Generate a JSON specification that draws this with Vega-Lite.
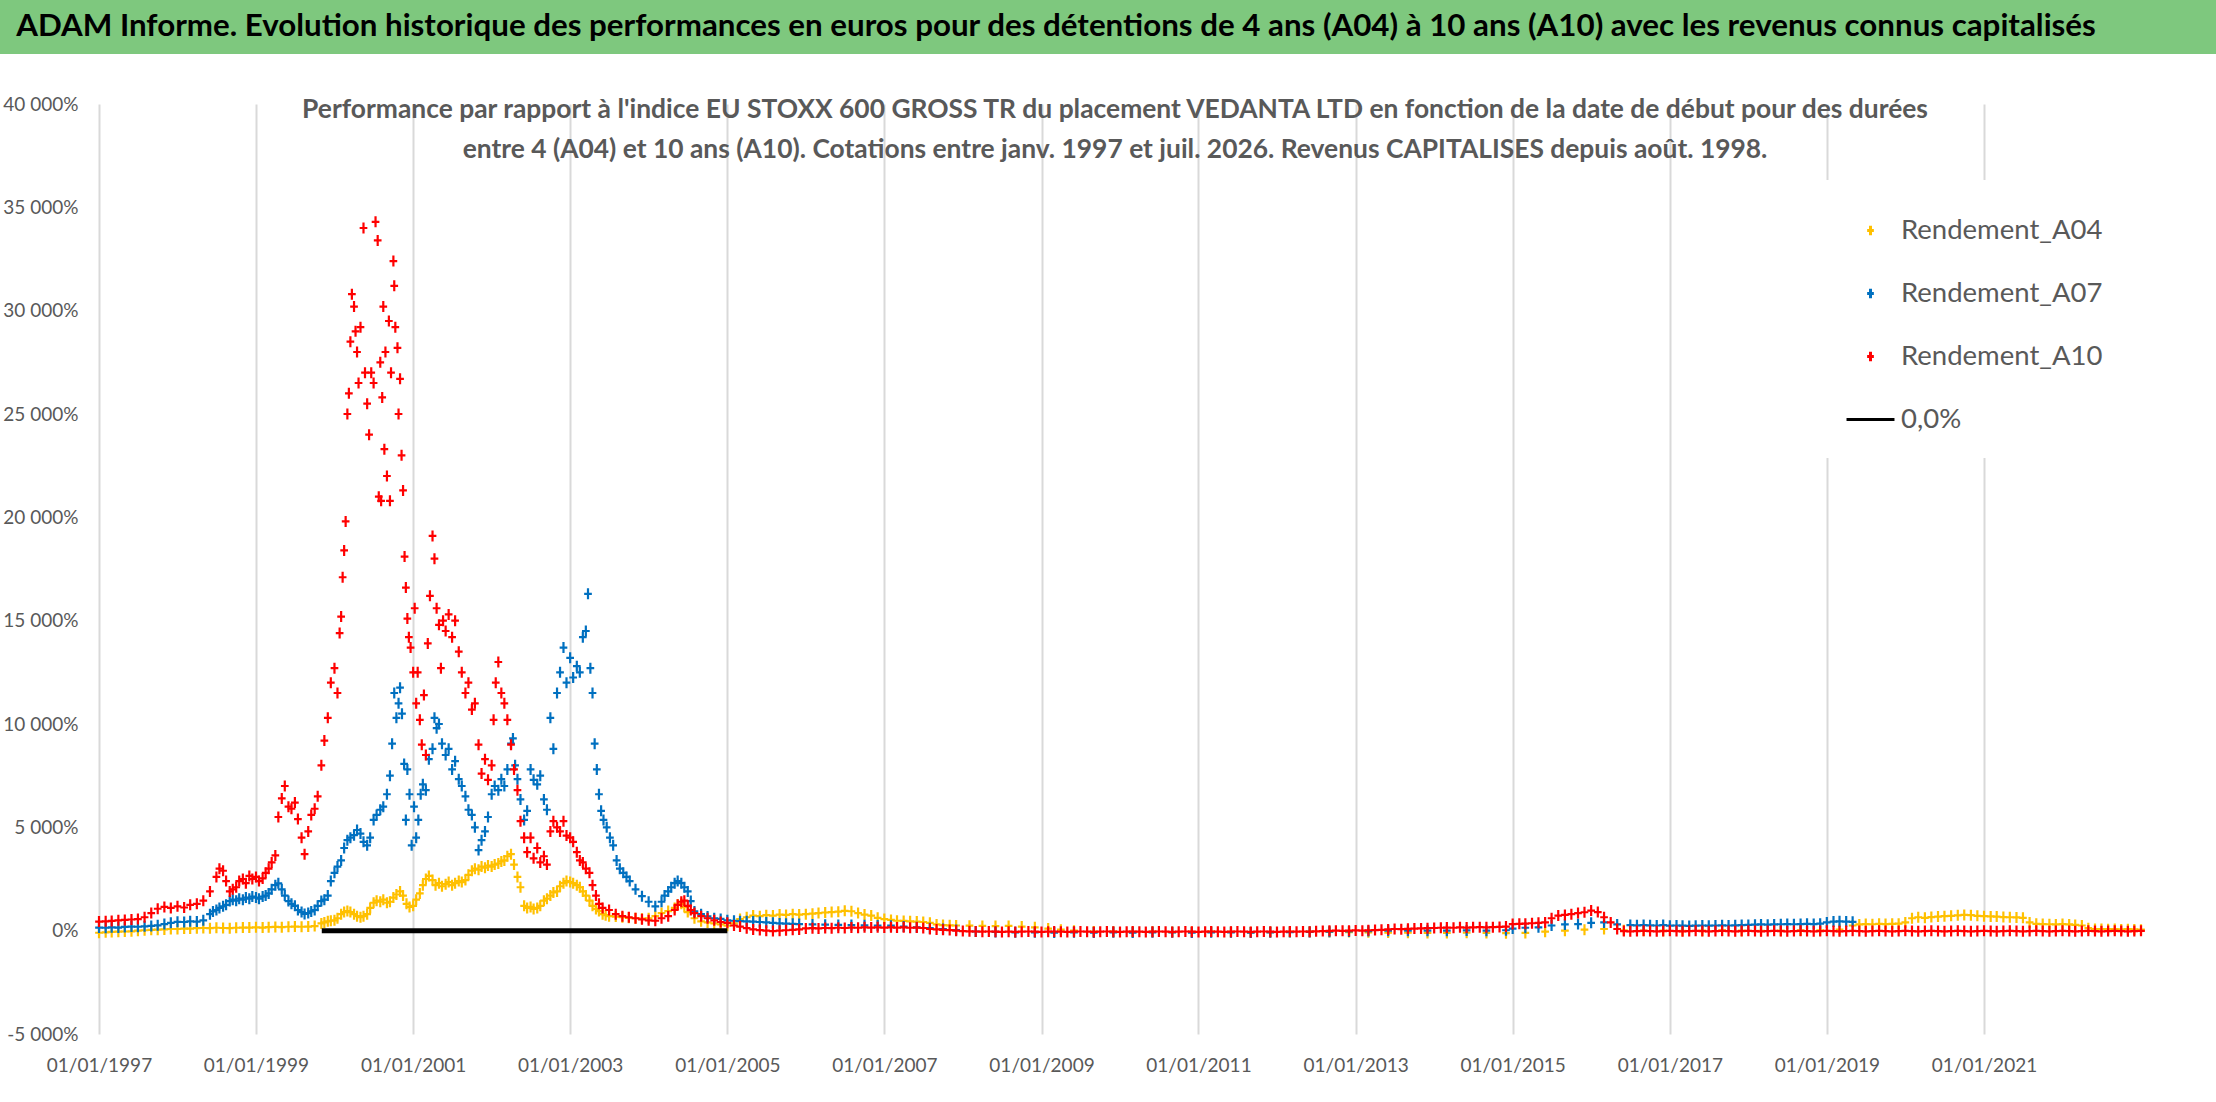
{
  "$schema": "https://vega.github.io/schema/vega-lite/v6.json",
  "padding": 0,
  "background": "white",
  "spacing": 41,
  "config": {
    "view": {"stroke": null},
    "font": "Lato",
    "legend": {
      "orient": "none",
      "legendX": 1820,
      "legendY": 180,
      "fillColor": "white",
      "padding": 25,
      "symbolSize": 2300,
      "symbolStrokeWidth": 3,
      "rowPadding": 24,
      "labelFont": "Lato",
      "labelFontSize": 27.5,
      "labelColor": "#595959",
      "labelOffset": 5,
      "labelLimit": 0
    }
  },
  "datasets": {
    "grid": [
      {"v":-5000},{"v":0},{"v":5000},{"v":10000},{"v":15000},{"v":20000},{"v":25000},{"v":30000},{"v":35000},{"v":40000}
    ],
    "a04": [
      {"d":"1997-01","v":-100},{"d":"1997-02","v":-80},{"d":"1997-03","v":-60},{"d":"1997-04","v":-50},{"d":"1997-05","v":-40},{"d":"1997-06","v":-30},
      {"d":"1997-07","v":0},{"d":"1997-08","v":20},{"d":"1997-09","v":40},{"d":"1997-10","v":50},{"d":"1997-11","v":60},{"d":"1997-12","v":80},
      {"d":"1998-01","v":80},{"d":"1998-02","v":100},{"d":"1998-03","v":100},{"d":"1998-04","v":120},{"d":"1998-05","v":130},{"d":"1998-06","v":120},
      {"d":"1998-07","v":140},{"d":"1998-08","v":130},{"d":"1998-09","v":120},{"d":"1998-10","v":140},{"d":"1998-11","v":150},{"d":"1998-12","v":150},
      {"d":"1999-01","v":160},{"d":"1999-02","v":150},{"d":"1999-03","v":170},{"d":"1999-04","v":180},{"d":"1999-05","v":170},{"d":"1999-06","v":190},
      {"d":"1999-07","v":200},{"d":"1999-08","v":190},{"d":"1999-09","v":200},{"d":"1999-10","v":220},{"d":"1999-11","v":350},{"d":"1999-11-15","v":400},
      {"d":"1999-12","v":450},{"d":"1999-12-15","v":480},{"d":"2000-01","v":500},{"d":"2000-01-15","v":600},{"d":"2000-02","v":800},{"d":"2000-02-15","v":900},
      {"d":"2000-03","v":950},{"d":"2000-03-15","v":900},{"d":"2000-04","v":800},{"d":"2000-04-15","v":700},{"d":"2000-05","v":650},{"d":"2000-05-15","v":700},
      {"d":"2000-06","v":800},{"d":"2000-06-15","v":1100},{"d":"2000-07","v":1350},{"d":"2000-07-15","v":1450},{"d":"2000-08","v":1400},{"d":"2000-08-15","v":1500},
      {"d":"2000-09","v":1350},{"d":"2000-09-15","v":1400},{"d":"2000-10","v":1600},{"d":"2000-10-15","v":1750},{"d":"2000-11","v":1900},{"d":"2000-11-15","v":1700},
      {"d":"2000-12","v":1300},{"d":"2000-12-15","v":1150},{"d":"2001-01","v":1200},{"d":"2001-01-15","v":1500},{"d":"2001-02","v":1800},{"d":"2001-02-15","v":2200},
      {"d":"2001-03","v":2500},{"d":"2001-03-15","v":2650},{"d":"2001-04","v":2450},{"d":"2001-04-15","v":2200},{"d":"2001-05","v":2300},{"d":"2001-05-15","v":2150},
      {"d":"2001-06","v":2250},{"d":"2001-06-15","v":2350},{"d":"2001-07","v":2200},{"d":"2001-07-15","v":2300},{"d":"2001-08","v":2400},{"d":"2001-08-15","v":2350},
      {"d":"2001-09","v":2450},{"d":"2001-09-15","v":2700},{"d":"2001-10","v":2900},{"d":"2001-10-15","v":3000},{"d":"2001-11","v":2950},{"d":"2001-11-15","v":3100},
      {"d":"2001-12","v":3050},{"d":"2001-12-15","v":3150},{"d":"2002-01","v":3100},{"d":"2002-01-15","v":3200},{"d":"2002-02","v":3250},{"d":"2002-02-15","v":3350},
      {"d":"2002-03","v":3400},{"d":"2002-03-15","v":3600},{"d":"2002-04","v":3700},{"d":"2002-04-15","v":3200},{"d":"2002-05","v":2600},{"d":"2002-05-15","v":2100},
      {"d":"2002-06","v":1200},{"d":"2002-06-15","v":1100},{"d":"2002-07","v":1150},{"d":"2002-07-15","v":1050},{"d":"2002-08","v":1100},{"d":"2002-08-15","v":1200},
      {"d":"2002-09","v":1450},{"d":"2002-09-15","v":1550},{"d":"2002-10","v":1700},{"d":"2002-10-15","v":1850},{"d":"2002-11","v":1900},{"d":"2002-11-15","v":2150},
      {"d":"2002-12","v":2300},{"d":"2002-12-15","v":2400},{"d":"2003-01","v":2350},{"d":"2003-01-15","v":2300},{"d":"2003-02","v":2200},{"d":"2003-02-15","v":2100},
      {"d":"2003-03","v":1900},{"d":"2003-03-15","v":1700},{"d":"2003-04","v":1450},{"d":"2003-04-15","v":1200},{"d":"2003-05","v":1050},{"d":"2003-05-15","v":950},
      {"d":"2003-06","v":800},{"d":"2003-06-15","v":750},{"d":"2003-07","v":700},{"d":"2003-08","v":680},{"d":"2003-09","v":650},{"d":"2003-10","v":620},
      {"d":"2003-11","v":600},{"d":"2003-12","v":580},{"d":"2004-01","v":600},{"d":"2004-02","v":700},{"d":"2004-03","v":850},{"d":"2004-04","v":950},
      {"d":"2004-05","v":1100},{"d":"2004-05-15","v":1250},{"d":"2004-06","v":1300},{"d":"2004-06-15","v":1150},{"d":"2004-07","v":900},{"d":"2004-08","v":600},
      {"d":"2004-09","v":450},{"d":"2004-10","v":400},{"d":"2004-11","v":350},{"d":"2004-12","v":300},{"d":"2005-01","v":240},{"d":"2005-02","v":350},
      {"d":"2005-03","v":560},{"d":"2005-04","v":650},{"d":"2005-05","v":730},{"d":"2005-06","v":700},{"d":"2005-07","v":750},{"d":"2005-08","v":730},
      {"d":"2005-09","v":780},{"d":"2005-10","v":760},{"d":"2005-11","v":800},{"d":"2005-12","v":780},{"d":"2006-01","v":800},{"d":"2006-02","v":820},
      {"d":"2006-03","v":850},{"d":"2006-04","v":880},{"d":"2006-05","v":900},{"d":"2006-06","v":920},{"d":"2006-07","v":960},{"d":"2006-08","v":940},
      {"d":"2006-09","v":850},{"d":"2006-10","v":780},{"d":"2006-11","v":730},{"d":"2006-12","v":620},{"d":"2007-01","v":560},{"d":"2007-02","v":520},
      {"d":"2007-03","v":480},{"d":"2007-04","v":470},{"d":"2007-05","v":450},{"d":"2007-06","v":440},{"d":"2007-07","v":420},{"d":"2007-08","v":380},
      {"d":"2007-09","v":300},{"d":"2007-10","v":270},{"d":"2007-11","v":260},{"d":"2007-12","v":250},{"d":"2008-02","v":240},{"d":"2008-04","v":230},
      {"d":"2008-06","v":220},{"d":"2008-08","v":230},{"d":"2008-10","v":200},{"d":"2008-12","v":160},{"d":"2009-02","v":100},{"d":"2009-04","v":50},
      {"d":"2009-06","v":0},{"d":"2009-09","v":-40},{"d":"2009-12","v":-50},{"d":"2010-03","v":-60},{"d":"2010-06","v":-50},{"d":"2010-09","v":-70},
      {"d":"2010-12","v":-60},{"d":"2011-03","v":-50},{"d":"2011-06","v":-60},{"d":"2011-09","v":-80},{"d":"2011-12","v":-70},{"d":"2012-03","v":-60},
      {"d":"2012-06","v":-50},{"d":"2012-09","v":-60},{"d":"2012-12","v":-70},{"d":"2013-03","v":-80},{"d":"2013-06","v":-90},{"d":"2013-09","v":-100},
      {"d":"2013-12","v":-110},{"d":"2014-03","v":-110},{"d":"2014-06","v":-100},{"d":"2014-09","v":-110},{"d":"2014-12","v":-120},{"d":"2015-03","v":-110},
      {"d":"2015-06","v":-50},{"d":"2015-09","v":0},{"d":"2015-12","v":50},{"d":"2016-03","v":80},{"d":"2016-06","v":20},{"d":"2016-09","v":0},
      {"d":"2016-12","v":0},{"d":"2017-03","v":-10},{"d":"2017-06","v":0},{"d":"2017-09","v":10},{"d":"2017-12","v":0},{"d":"2018-03","v":-10},
      {"d":"2018-06","v":0},{"d":"2018-09","v":10},{"d":"2018-12","v":20},{"d":"2019-03","v":50},{"d":"2019-05","v":250},{"d":"2019-06","v":300},
      {"d":"2019-07","v":320},{"d":"2019-08","v":310},{"d":"2019-09","v":330},{"d":"2019-10","v":320},{"d":"2019-11","v":330},{"d":"2019-12","v":340},
      {"d":"2020-01","v":400},{"d":"2020-02","v":600},{"d":"2020-03","v":650},{"d":"2020-04","v":620},{"d":"2020-05","v":660},{"d":"2020-06","v":680},
      {"d":"2020-07","v":700},{"d":"2020-08","v":720},{"d":"2020-09","v":740},{"d":"2020-10","v":760},{"d":"2020-11","v":750},{"d":"2020-12","v":720},
      {"d":"2021-01","v":700},{"d":"2021-02","v":690},{"d":"2021-03","v":680},{"d":"2021-04","v":660},{"d":"2021-05","v":650},{"d":"2021-06","v":640},
      {"d":"2021-07","v":620},{"d":"2021-08","v":400},{"d":"2021-09","v":330},{"d":"2021-10","v":320},{"d":"2021-11","v":310},{"d":"2021-12","v":300},
      {"d":"2022-01","v":320},{"d":"2022-02","v":300},{"d":"2022-03","v":280},{"d":"2022-04","v":250},{"d":"2022-05","v":120},{"d":"2022-06","v":80},
      {"d":"2022-07","v":80},{"d":"2022-08","v":70},{"d":"2022-09","v":80},{"d":"2022-10","v":60},{"d":"2022-11","v":70},{"d":"2022-12","v":60},
      {"d":"2023-01","v":50}
    ],
    "a07": [
      {"d":"1997-01","v":150},{"d":"1997-02","v":140},{"d":"1997-03","v":160},{"d":"1997-04","v":150},{"d":"1997-05","v":180},{"d":"1997-06","v":200},
      {"d":"1997-07","v":190},{"d":"1997-08","v":210},{"d":"1997-09","v":230},{"d":"1997-10","v":260},{"d":"1997-11","v":320},{"d":"1997-12","v":380},
      {"d":"1998-01","v":430},{"d":"1998-02","v":420},{"d":"1998-03","v":450},{"d":"1998-04","v":440},{"d":"1998-05","v":500},{"d":"1998-06","v":800},
      {"d":"1998-06-15","v":930},{"d":"1998-07","v":1000},{"d":"1998-07-15","v":1100},{"d":"1998-08","v":1180},{"d":"1998-08-15","v":1250},{"d":"1998-09","v":1430},
      {"d":"1998-09-15","v":1500},{"d":"1998-10","v":1450},{"d":"1998-10-15","v":1550},{"d":"1998-11","v":1500},{"d":"1998-11-15","v":1600},{"d":"1998-12","v":1550},
      {"d":"1998-12-15","v":1650},{"d":"1999-01","v":1600},{"d":"1999-01-15","v":1550},{"d":"1999-02","v":1650},{"d":"1999-02-15","v":1700},{"d":"1999-03","v":1800},
      {"d":"1999-03-15","v":2000},{"d":"1999-04","v":2200},{"d":"1999-04-15","v":2290},{"d":"1999-05","v":2000},{"d":"1999-05-15","v":1700},{"d":"1999-06","v":1430},
      {"d":"1999-06-15","v":1300},{"d":"1999-07","v":1200},{"d":"1999-07-15","v":1000},{"d":"1999-08","v":900},{"d":"1999-08-15","v":810},{"d":"1999-09","v":850},
      {"d":"1999-09-15","v":930},{"d":"1999-10","v":1000},{"d":"1999-10-15","v":1200},{"d":"1999-11","v":1430},{"d":"1999-11-15","v":1500},{"d":"1999-12","v":1700},
      {"d":"1999-12-15","v":2400},{"d":"2000-01","v":2800},{"d":"2000-01-15","v":3100},{"d":"2000-02","v":3400},{"d":"2000-02-15","v":4000},{"d":"2000-03","v":4380},
      {"d":"2000-03-15","v":4500},{"d":"2000-04","v":4620},{"d":"2000-04-15","v":4870},{"d":"2000-05","v":4700},{"d":"2000-05-15","v":4300},{"d":"2000-06","v":4130},
      {"d":"2000-06-15","v":4500},{"d":"2000-07","v":5360},{"d":"2000-07-15","v":5600},{"d":"2000-08","v":5850},{"d":"2000-08-15","v":6000},{"d":"2000-09","v":6600},
      {"d":"2000-09-15","v":7500},{"d":"2000-09-25","v":9050},{"d":"2000-10-05","v":11500},{"d":"2000-10-15","v":10300},{"d":"2000-10-25","v":11000},{"d":"2000-11-01","v":11760},
      {"d":"2000-11-10","v":10500},{"d":"2000-11-20","v":8070},{"d":"2000-11-28","v":5360},{"d":"2000-12-05","v":7800},{"d":"2000-12-15","v":6600},{"d":"2000-12-25","v":4130},
      {"d":"2001-01-05","v":6000},{"d":"2001-01-15","v":4500},{"d":"2001-01-25","v":5360},{"d":"2001-02-05","v":6600},{"d":"2001-02-15","v":7080},{"d":"2001-03-01","v":6800},
      {"d":"2001-03-15","v":8300},{"d":"2001-04-01","v":8800},{"d":"2001-04-10","v":10300},{"d":"2001-04-20","v":9800},{"d":"2001-05-01","v":10000},{"d":"2001-05-15","v":9050},
      {"d":"2001-06-01","v":8500},{"d":"2001-06-15","v":8800},{"d":"2001-07-01","v":7800},{"d":"2001-07-15","v":8200},{"d":"2001-08-01","v":7330},{"d":"2001-08-15","v":7000},
      {"d":"2001-09-01","v":6500},{"d":"2001-09-15","v":5850},{"d":"2001-10-01","v":5600},{"d":"2001-10-15","v":5000},{"d":"2001-11-01","v":3900},{"d":"2001-11-15","v":4380},
      {"d":"2001-12-01","v":4800},{"d":"2001-12-15","v":5500},{"d":"2002-01-01","v":6600},{"d":"2002-01-15","v":7000},{"d":"2002-02-01","v":6800},{"d":"2002-02-15","v":7330},
      {"d":"2002-03-01","v":7000},{"d":"2002-03-15","v":7800},{"d":"2002-04-01","v":9050},{"d":"2002-04-10","v":9300},{"d":"2002-04-20","v":8000},{"d":"2002-05-01","v":7330},
      {"d":"2002-05-15","v":6350},{"d":"2002-06-01","v":5360},{"d":"2002-06-15","v":5800},{"d":"2002-07-01","v":7800},{"d":"2002-07-15","v":7300},{"d":"2002-08-01","v":7080},
      {"d":"2002-08-15","v":7500},{"d":"2002-09-01","v":6350},{"d":"2002-09-15","v":5850},{"d":"2002-10-01","v":10300},{"d":"2002-10-15","v":8800},{"d":"2002-11-01","v":11500},
      {"d":"2002-11-15","v":12500},{"d":"2002-12-01","v":13700},{"d":"2002-12-15","v":12000},{"d":"2003-01-01","v":13200},{"d":"2003-01-15","v":12250},{"d":"2003-02-01","v":12800},
      {"d":"2003-02-15","v":12500},{"d":"2003-03-01","v":14200},{"d":"2003-03-15","v":14500},{"d":"2003-03-25","v":16300},{"d":"2003-04-05","v":12700},{"d":"2003-04-15","v":11500},
      {"d":"2003-04-25","v":9050},{"d":"2003-05-05","v":7800},{"d":"2003-05-15","v":6600},{"d":"2003-05-25","v":5800},{"d":"2003-06-05","v":5360},{"d":"2003-06-20","v":5000},
      {"d":"2003-07-05","v":4500},{"d":"2003-07-20","v":4130},{"d":"2003-08-05","v":3400},{"d":"2003-08-20","v":3000},{"d":"2003-09-05","v":2800},{"d":"2003-09-20","v":2600},
      {"d":"2003-10-05","v":2400},{"d":"2003-11-01","v":2000},{"d":"2003-12-01","v":1670},{"d":"2004-01-01","v":1400},{"d":"2004-02-01","v":1180},{"d":"2004-03-01","v":1400},
      {"d":"2004-03-15","v":1700},{"d":"2004-04-01","v":1900},{"d":"2004-04-15","v":2100},{"d":"2004-05-01","v":2300},{"d":"2004-05-15","v":2400},{"d":"2004-06-01","v":2300},
      {"d":"2004-06-15","v":2100},{"d":"2004-07-01","v":1900},{"d":"2004-07-15","v":1430},{"d":"2004-08-01","v":930},{"d":"2004-09-01","v":800},{"d":"2004-10-01","v":690},
      {"d":"2004-11-01","v":600},{"d":"2004-12-01","v":570},{"d":"2005-01","v":500},{"d":"2005-02","v":480},{"d":"2005-03","v":460},{"d":"2005-04","v":450},
      {"d":"2005-05","v":440},{"d":"2005-06","v":420},{"d":"2005-07","v":400},{"d":"2005-08","v":380},{"d":"2005-09","v":350},{"d":"2005-10","v":340},
      {"d":"2005-11","v":330},{"d":"2005-12","v":320},{"d":"2006-02","v":300},{"d":"2006-04","v":290},{"d":"2006-06","v":280},{"d":"2006-08","v":270},
      {"d":"2006-10","v":260},{"d":"2006-12","v":250},{"d":"2007-02","v":240},{"d":"2007-04","v":200},{"d":"2007-06","v":160},{"d":"2007-08","v":120},
      {"d":"2007-10","v":80},{"d":"2007-12","v":30},{"d":"2008-03","v":-40},{"d":"2008-06","v":-60},{"d":"2008-09","v":-80},{"d":"2008-12","v":-80},
      {"d":"2009-03","v":-90},{"d":"2009-06","v":-80},{"d":"2009-09","v":-90},{"d":"2009-12","v":-80},{"d":"2010-03","v":-90},{"d":"2010-06","v":-80},
      {"d":"2010-09","v":-80},{"d":"2010-12","v":-90},{"d":"2011-03","v":-80},{"d":"2011-06","v":-80},{"d":"2011-09","v":-90},{"d":"2011-12","v":-80},
      {"d":"2012-03","v":-70},{"d":"2012-06","v":-60},{"d":"2012-09","v":-50},{"d":"2012-12","v":-40},{"d":"2013-03","v":-20},{"d":"2013-06","v":0},
      {"d":"2013-09","v":0},{"d":"2013-12","v":0},{"d":"2014-03","v":0},{"d":"2014-06","v":10},{"d":"2014-09","v":0},{"d":"2014-12","v":20},
      {"d":"2015-01","v":100},{"d":"2015-03","v":140},{"d":"2015-05","v":160},{"d":"2015-07","v":250},{"d":"2015-09","v":300},{"d":"2015-11","v":320},
      {"d":"2016-01","v":380},{"d":"2016-03","v":400},{"d":"2016-05","v":300},{"d":"2016-07","v":270},{"d":"2016-08","v":260},{"d":"2016-09","v":270},
      {"d":"2016-10","v":260},{"d":"2016-11","v":250},{"d":"2016-12","v":270},{"d":"2017-01","v":240},{"d":"2017-02","v":250},{"d":"2017-03","v":240},
      {"d":"2017-04","v":230},{"d":"2017-05","v":240},{"d":"2017-06","v":250},{"d":"2017-07","v":240},{"d":"2017-08","v":250},{"d":"2017-09","v":260},
      {"d":"2017-10","v":250},{"d":"2017-11","v":260},{"d":"2017-12","v":270},{"d":"2018-01","v":280},{"d":"2018-02","v":290},{"d":"2018-03","v":300},
      {"d":"2018-04","v":290},{"d":"2018-05","v":300},{"d":"2018-06","v":310},{"d":"2018-07","v":320},{"d":"2018-08","v":310},{"d":"2018-09","v":320},
      {"d":"2018-10","v":330},{"d":"2018-11","v":320},{"d":"2018-12","v":340},{"d":"2019-01","v":400},{"d":"2019-02","v":440},{"d":"2019-03","v":450},
      {"d":"2019-04","v":440},{"d":"2019-05","v":430}
    ],
    "a10": [
      {"d":"1997-01","v":440},{"d":"1997-02","v":450},{"d":"1997-03","v":470},{"d":"1997-04","v":500},{"d":"1997-05","v":520},{"d":"1997-06","v":540},
      {"d":"1997-07","v":560},{"d":"1997-08","v":650},{"d":"1997-09","v":850},{"d":"1997-10","v":1060},{"d":"1997-11","v":1150},{"d":"1997-12","v":1100},
      {"d":"1998-01","v":1180},{"d":"1998-02","v":1120},{"d":"1998-03","v":1250},{"d":"1998-04","v":1300},{"d":"1998-05","v":1450},{"d":"1998-06","v":1900},
      {"d":"1998-07","v":2600},{"d":"1998-07-15","v":3000},{"d":"1998-08","v":2900},{"d":"1998-08-15","v":2400},{"d":"1998-09","v":1900},{"d":"1998-09-15","v":2000},
      {"d":"1998-10","v":2100},{"d":"1998-10-15","v":2400},{"d":"1998-11","v":2500},{"d":"1998-11-15","v":2300},{"d":"1998-12","v":2650},{"d":"1998-12-15","v":2500},
      {"d":"1999-01","v":2600},{"d":"1999-01-15","v":2400},{"d":"1999-02","v":2530},{"d":"1999-02-15","v":2800},{"d":"1999-03","v":3000},{"d":"1999-03-15","v":3300},
      {"d":"1999-04","v":3640},{"d":"1999-04-15","v":5500},{"d":"1999-05","v":6400},{"d":"1999-05-15","v":7000},{"d":"1999-06","v":6000},{"d":"1999-06-15","v":5900},
      {"d":"1999-07","v":6200},{"d":"1999-07-15","v":5400},{"d":"1999-08","v":4500},{"d":"1999-08-15","v":3700},{"d":"1999-09","v":4800},{"d":"1999-09-15","v":5600},
      {"d":"1999-10","v":5900},{"d":"1999-10-15","v":6500},{"d":"1999-11","v":8000},{"d":"1999-11-15","v":9200},{"d":"1999-12","v":10300},{"d":"1999-12-15","v":12000},
      {"d":"2000-01-01","v":12700},{"d":"2000-01-15","v":11500},{"d":"2000-01-25","v":14400},{"d":"2000-02-01","v":15200},{"d":"2000-02-08","v":17100},{"d":"2000-02-15","v":18400},
      {"d":"2000-02-22","v":19800},{"d":"2000-03-01","v":25000},{"d":"2000-03-08","v":26000},{"d":"2000-03-15","v":28500},{"d":"2000-03-22","v":30800},{"d":"2000-04-01","v":30200},
      {"d":"2000-04-08","v":29000},{"d":"2000-04-15","v":28000},{"d":"2000-04-22","v":26500},{"d":"2000-05-01","v":29200},{"d":"2000-05-15","v":34000},{"d":"2000-05-22","v":27000},
      {"d":"2000-06-01","v":25500},{"d":"2000-06-10","v":24000},{"d":"2000-06-20","v":27000},{"d":"2000-07-01","v":26500},{"d":"2000-07-10","v":34300},{"d":"2000-07-20","v":33400},
      {"d":"2000-07-25","v":21000},{"d":"2000-08-01","v":27500},{"d":"2000-08-05","v":20800},{"d":"2000-08-10","v":25800},{"d":"2000-08-15","v":30200},{"d":"2000-08-20","v":23300},
      {"d":"2000-08-25","v":28000},{"d":"2000-09-01","v":22000},{"d":"2000-09-10","v":29500},{"d":"2000-09-15","v":20800},{"d":"2000-09-20","v":27000},{"d":"2000-10-01","v":32400},
      {"d":"2000-10-05","v":31200},{"d":"2000-10-10","v":29200},{"d":"2000-10-20","v":28200},{"d":"2000-10-25","v":25000},{"d":"2000-11-01","v":26700},{"d":"2000-11-08","v":23000},
      {"d":"2000-11-15","v":21300},{"d":"2000-11-22","v":18100},{"d":"2000-11-28","v":16600},{"d":"2000-12-05","v":15100},{"d":"2000-12-12","v":14200},{"d":"2000-12-20","v":13700},
      {"d":"2001-01-01","v":12500},{"d":"2001-01-08","v":15600},{"d":"2001-01-15","v":11000},{"d":"2001-01-22","v":12500},{"d":"2001-02-01","v":10200},{"d":"2001-02-10","v":9000},
      {"d":"2001-02-20","v":11400},{"d":"2001-03-01","v":8500},{"d":"2001-03-10","v":13900},{"d":"2001-03-20","v":16200},{"d":"2001-04-01","v":19100},{"d":"2001-04-10","v":18000},
      {"d":"2001-04-20","v":15600},{"d":"2001-05-01","v":14800},{"d":"2001-05-10","v":12700},{"d":"2001-05-20","v":15000},{"d":"2001-06-01","v":14500},{"d":"2001-06-15","v":15300},
      {"d":"2001-07-01","v":14200},{"d":"2001-07-15","v":15000},{"d":"2001-08-01","v":13500},{"d":"2001-08-15","v":12500},{"d":"2001-09-01","v":11500},{"d":"2001-09-15","v":12000},
      {"d":"2001-10-01","v":10700},{"d":"2001-10-15","v":11000},{"d":"2001-11-01","v":9000},{"d":"2001-11-15","v":7600},{"d":"2001-12-01","v":8300},{"d":"2001-12-15","v":7300},
      {"d":"2002-01-01","v":8000},{"d":"2002-01-10","v":10200},{"d":"2002-01-20","v":12000},{"d":"2002-02-01","v":13000},{"d":"2002-02-15","v":11500},{"d":"2002-03-01","v":11000},
      {"d":"2002-03-15","v":10200},{"d":"2002-04-01","v":9000},{"d":"2002-04-15","v":7800},{"d":"2002-05-01","v":6800},{"d":"2002-05-15","v":5300},{"d":"2002-06-01","v":4500},
      {"d":"2002-06-15","v":3800},{"d":"2002-07-01","v":4500},{"d":"2002-07-15","v":3500},{"d":"2002-08-01","v":4000},{"d":"2002-08-15","v":3300},{"d":"2002-09-01","v":3600},
      {"d":"2002-09-15","v":3200},{"d":"2002-10-01","v":4800},{"d":"2002-10-15","v":5300},{"d":"2002-11-01","v":5000},{"d":"2002-11-15","v":4800},{"d":"2002-12-01","v":5300},
      {"d":"2002-12-15","v":4600},{"d":"2003-01-01","v":4500},{"d":"2003-01-15","v":4300},{"d":"2003-02-01","v":3800},{"d":"2003-02-15","v":3400},{"d":"2003-03-01","v":3300},
      {"d":"2003-03-15","v":3000},{"d":"2003-04-01","v":2800},{"d":"2003-04-15","v":2200},{"d":"2003-05-01","v":1700},{"d":"2003-05-15","v":1300},{"d":"2003-06-01","v":1100},
      {"d":"2003-07","v":1000},{"d":"2003-08","v":800},{"d":"2003-09","v":700},{"d":"2003-10","v":650},{"d":"2003-11","v":600},{"d":"2003-12","v":550},
      {"d":"2004-01","v":500},{"d":"2004-02","v":480},{"d":"2004-03","v":600},{"d":"2004-04","v":700},{"d":"2004-05","v":1000},{"d":"2004-05-15","v":1250},
      {"d":"2004-06","v":1400},{"d":"2004-06-15","v":1450},{"d":"2004-07","v":1200},{"d":"2004-07-15","v":1000},{"d":"2004-08","v":850},{"d":"2004-09","v":700},
      {"d":"2004-10","v":600},{"d":"2004-11","v":500},{"d":"2004-12","v":420},{"d":"2005-01","v":380},{"d":"2005-02","v":250},{"d":"2005-03","v":200},
      {"d":"2005-04","v":120},{"d":"2005-05","v":60},{"d":"2005-06","v":30},{"d":"2005-07","v":0},{"d":"2005-08","v":-20},{"d":"2005-09","v":0},
      {"d":"2005-10","v":20},{"d":"2005-11","v":40},{"d":"2005-12","v":60},{"d":"2006-01","v":110},{"d":"2006-02","v":120},{"d":"2006-03","v":110},
      {"d":"2006-04","v":130},{"d":"2006-05","v":120},{"d":"2006-06","v":140},{"d":"2006-07","v":130},{"d":"2006-08","v":150},{"d":"2006-09","v":140},
      {"d":"2006-10","v":160},{"d":"2006-11","v":150},{"d":"2006-12","v":160},{"d":"2007-01","v":150},{"d":"2007-02","v":160},{"d":"2007-03","v":150},
      {"d":"2007-04","v":160},{"d":"2007-05","v":140},{"d":"2007-06","v":150},{"d":"2007-07","v":130},{"d":"2007-08","v":80},{"d":"2007-09","v":60},
      {"d":"2007-10","v":40},{"d":"2007-11","v":30},{"d":"2007-12","v":0},{"d":"2008-01","v":-20},{"d":"2008-02","v":-30},{"d":"2008-03","v":-40},
      {"d":"2008-04","v":-50},{"d":"2008-05","v":-40},{"d":"2008-06","v":-50},{"d":"2008-07","v":-60},{"d":"2008-08","v":-50},{"d":"2008-09","v":-60},
      {"d":"2008-10","v":-50},{"d":"2008-11","v":-40},{"d":"2008-12","v":-50},{"d":"2009-01","v":-60},{"d":"2009-02","v":-50},{"d":"2009-03","v":-40},
      {"d":"2009-04","v":-50},{"d":"2009-05","v":-60},{"d":"2009-06","v":-50},{"d":"2009-07","v":-40},{"d":"2009-08","v":-50},{"d":"2009-09","v":-60},
      {"d":"2009-10","v":-50},{"d":"2009-11","v":-40},{"d":"2009-12","v":-50},{"d":"2010-01","v":-60},{"d":"2010-02","v":-50},{"d":"2010-03","v":-40},
      {"d":"2010-04","v":-50},{"d":"2010-05","v":-60},{"d":"2010-06","v":-50},{"d":"2010-07","v":-40},{"d":"2010-08","v":-50},{"d":"2010-09","v":-60},
      {"d":"2010-10","v":-50},{"d":"2010-11","v":-40},{"d":"2010-12","v":-50},{"d":"2011-01","v":-60},{"d":"2011-02","v":-50},{"d":"2011-03","v":-40},
      {"d":"2011-04","v":-50},{"d":"2011-05","v":-60},{"d":"2011-06","v":-50},{"d":"2011-07","v":-40},{"d":"2011-08","v":-50},{"d":"2011-09","v":-60},
      {"d":"2011-10","v":-50},{"d":"2011-11","v":-40},{"d":"2011-12","v":-50},{"d":"2012-01","v":-60},{"d":"2012-02","v":-50},{"d":"2012-03","v":-40},
      {"d":"2012-04","v":-50},{"d":"2012-05","v":-40},{"d":"2012-06","v":-50},{"d":"2012-07","v":-30},{"d":"2012-08","v":-20},{"d":"2012-09","v":-10},
      {"d":"2012-10","v":0},{"d":"2012-11","v":-10},{"d":"2012-12","v":0},{"d":"2013-01","v":10},{"d":"2013-02","v":0},{"d":"2013-03","v":20},
      {"d":"2013-04","v":30},{"d":"2013-05","v":40},{"d":"2013-06","v":60},{"d":"2013-07","v":80},{"d":"2013-08","v":70},{"d":"2013-09","v":90},
      {"d":"2013-10","v":100},{"d":"2013-11","v":110},{"d":"2013-12","v":120},{"d":"2014-01","v":130},{"d":"2014-02","v":140},{"d":"2014-03","v":150},
      {"d":"2014-04","v":140},{"d":"2014-05","v":160},{"d":"2014-06","v":150},{"d":"2014-07","v":160},{"d":"2014-08","v":170},{"d":"2014-09","v":160},
      {"d":"2014-10","v":170},{"d":"2014-11","v":180},{"d":"2014-12","v":200},{"d":"2015-01","v":320},{"d":"2015-02","v":330},{"d":"2015-03","v":340},
      {"d":"2015-04","v":360},{"d":"2015-05","v":380},{"d":"2015-06","v":400},{"d":"2015-07","v":600},{"d":"2015-08","v":730},{"d":"2015-09","v":760},
      {"d":"2015-10","v":800},{"d":"2015-11","v":850},{"d":"2015-12","v":890},{"d":"2016-01","v":970},{"d":"2016-02","v":900},{"d":"2016-03","v":650},
      {"d":"2016-04","v":400},{"d":"2016-05","v":80},{"d":"2016-06","v":-20},{"d":"2016-07","v":-30},{"d":"2016-08","v":-20},{"d":"2016-09","v":-10},
      {"d":"2016-10","v":-20},{"d":"2016-11","v":-30},{"d":"2016-12","v":-20},{"d":"2017-01","v":-10},{"d":"2017-02","v":-20},{"d":"2017-03","v":-30},
      {"d":"2017-04","v":-20},{"d":"2017-05","v":-10},{"d":"2017-06","v":-20},{"d":"2017-07","v":-30},{"d":"2017-08","v":-20},{"d":"2017-09","v":-10},
      {"d":"2017-10","v":-20},{"d":"2017-11","v":-30},{"d":"2017-12","v":-20},{"d":"2018-01","v":-10},{"d":"2018-02","v":-20},{"d":"2018-03","v":-30},
      {"d":"2018-04","v":-20},{"d":"2018-05","v":-10},{"d":"2018-06","v":-20},{"d":"2018-07","v":-30},{"d":"2018-08","v":-20},{"d":"2018-09","v":-10},
      {"d":"2018-10","v":-20},{"d":"2018-11","v":-30},{"d":"2018-12","v":-20},{"d":"2019-01","v":-10},{"d":"2019-02","v":-20},{"d":"2019-03","v":-30},
      {"d":"2019-04","v":-20},{"d":"2019-05","v":-10},{"d":"2019-06","v":-20},{"d":"2019-07","v":-30},{"d":"2019-08","v":-20},{"d":"2019-09","v":-10},
      {"d":"2019-10","v":-20},{"d":"2019-11","v":-30},{"d":"2019-12","v":-20},{"d":"2020-01","v":-10},{"d":"2020-02","v":-20},{"d":"2020-03","v":-30},
      {"d":"2020-04","v":-20},{"d":"2020-05","v":-10},{"d":"2020-06","v":-20},{"d":"2020-07","v":-30},{"d":"2020-08","v":-20},{"d":"2020-09","v":-10},
      {"d":"2020-10","v":-20},{"d":"2020-11","v":-30},{"d":"2020-12","v":-20},{"d":"2021-01","v":-10},{"d":"2021-02","v":-20},{"d":"2021-03","v":-30},
      {"d":"2021-04","v":-20},{"d":"2021-05","v":-10},{"d":"2021-06","v":-20},{"d":"2021-07","v":-30},{"d":"2021-08","v":-20},{"d":"2021-09","v":-10},
      {"d":"2021-10","v":-20},{"d":"2021-11","v":-30},{"d":"2021-12","v":-20},{"d":"2022-01","v":-10},{"d":"2022-02","v":-20},{"d":"2022-03","v":-30},
      {"d":"2022-04","v":-20},{"d":"2022-05","v":-10},{"d":"2022-06","v":-20},{"d":"2022-07","v":-30},{"d":"2022-08","v":-20},{"d":"2022-09","v":-10},
      {"d":"2022-10","v":-20},{"d":"2022-11","v":-30},{"d":"2022-12","v":-20},{"d":"2023-01","v":-10}
    ],
    "zero": [
      {"d":"1999-11-03","v":0},{"d":"2005-01-01","v":0}
    ]
  },
  "vconcat": [
    {
      "width": 2216,
      "height": 54,
      "view": {"fill": "#7ec87e", "stroke": null},
      "data": {"values": [{"t": "ADAM Informe. Evolution historique des performances en euros pour des détentions de 4 ans (A04) à 10 ans (A10) avec les revenus connus capitalisés"}]},
      "mark": {"type": "text", "font": "Lato", "fontWeight": "bold", "fontSize": 31.3, "color": "#000000", "dx": -52},
      "encoding": {"text": {"field": "t", "type": "nominal"}}
    },
    {
      "width": 2216,
      "height": 930,
      "title": {
        "text": [
          "Performance par rapport à l'indice EU STOXX 600 GROSS TR  du placement VEDANTA LTD en fonction de la date de début pour des durées",
          "entre 4 (A04) et 10 ans (A10). Cotations entre janv. 1997 et juil. 2026. Revenus CAPITALISES depuis août. 1998."
        ],
        "font": "Lato",
        "fontSize": 26.4,
        "fontWeight": "bold",
        "color": "#595959",
        "lineHeight": 40,
        "offset": -68,
        "dx": 7,
        "anchor": "middle"
      },
      "encoding": {
        "x": {
          "field": "d",
          "type": "temporal",
          "title": null,
          "scale": {
            "type": "utc",
            "nice": false,
            "range": [99, 2141],
            "domain": [{"year": 1997, "month": 1, "date": 1, "utc": true}, {"year": 2023, "month": 1, "date": 1, "utc": true}]
          },
          "axis": {
            "values": [
              {"year": 1997, "month": 1, "date": 1, "utc": true}, {"year": 1999, "month": 1, "date": 1, "utc": true},
              {"year": 2001, "month": 1, "date": 1, "utc": true}, {"year": 2003, "month": 1, "date": 1, "utc": true},
              {"year": 2005, "month": 1, "date": 1, "utc": true}, {"year": 2007, "month": 1, "date": 1, "utc": true},
              {"year": 2009, "month": 1, "date": 1, "utc": true}, {"year": 2011, "month": 1, "date": 1, "utc": true},
              {"year": 2013, "month": 1, "date": 1, "utc": true}, {"year": 2015, "month": 1, "date": 1, "utc": true},
              {"year": 2017, "month": 1, "date": 1, "utc": true}, {"year": 2019, "month": 1, "date": 1, "utc": true},
              {"year": 2021, "month": 1, "date": 1, "utc": true}
            ],
            "labelExpr": "utcFormat(datum.value, '%d/%m/%Y')",
            "labelFlush": false,
            "labelOverlap": false,
            "labelFont": "Lato",
            "labelFontSize": 19,
            "labelColor": "#595959",
            "labelPadding": 22,
            "domain": false,
            "ticks": false,
            "grid": true,
            "gridColor": "#d9d9d9",
            "gridWidth": 2
          }
        },
        "y": {
          "field": "v",
          "type": "quantitative",
          "title": null,
          "scale": {"domain": [-5000, 40000], "nice": false, "zero": false},
          "axis": {
            "values": [-5000, 0, 5000, 10000, 15000, 20000, 25000, 30000, 35000, 40000],
            "labelExpr": "(datum.value < 0 ? '-' : '') + replace(format(abs(datum.value), ',d'), ',', ' ') + '%'",
            "labelFont": "Lato",
            "labelFontSize": 19,
            "labelColor": "#595959",
            "labelPadding": 21,
            "offset": -99,
            "domain": false,
            "ticks": false,
            "grid": false
          }
        }
      },
      "layer": [
        {
          "data": {"name": "grid"},
          "mark": {"type": "rule", "color": "#d9d9d9", "strokeWidth": 2},
          "encoding": {
            "x": {"datum": {"year": 1997, "month": 1, "date": 1, "utc": true}, "type": "temporal"},
            "x2": {"datum": {"year": 2023, "month": 1, "date": 1, "utc": true}},
            "y": {"field": "v", "type": "quantitative"}
          }
        },
        {
          "data": {"name": "a04"},
          "mark": {"type": "point", "size": 3025, "filled": false, "strokeWidth": 2.2, "opacity": 1},
          "encoding": {
            "color": {
              "datum": "Rendement_A04",
              "type": "nominal",
              "scale": {
                "domain": ["Rendement_A04", "Rendement_A07", "Rendement_A10", "0,0%"],
                "range": ["#ffc000", "#0070c0", "#ff0000", "#000000"]
              },
              "legend": {"title": null}
            },
            "shape": {
              "datum": "Rendement_A04",
              "type": "nominal",
              "scale": {
                "domain": ["Rendement_A04", "Rendement_A07", "Rendement_A10", "0,0%"],
                "range": ["M-0.14,0H0.14M0,-0.2V0.2", "M-0.14,0H0.14M0,-0.2V0.2", "M-0.14,0H0.14M0,-0.2V0.2", "stroke"]
              },
              "legend": {"title": null}
            }
          }
        },
        {
          "data": {"name": "a07"},
          "mark": {"type": "point", "size": 3025, "filled": false, "strokeWidth": 2.2, "opacity": 1},
          "encoding": {
            "color": {"datum": "Rendement_A07", "type": "nominal"},
            "shape": {"datum": "Rendement_A07", "type": "nominal"}
          }
        },
        {
          "data": {"name": "a10"},
          "mark": {"type": "point", "size": 3025, "filled": false, "strokeWidth": 2.2, "opacity": 1},
          "encoding": {
            "color": {"datum": "Rendement_A10", "type": "nominal"},
            "shape": {"datum": "Rendement_A10", "type": "nominal"}
          }
        },
        {
          "data": {"name": "zero"},
          "mark": {"type": "line", "strokeWidth": 5},
          "encoding": {"color": {"datum": "0,0%", "type": "nominal"}}
        }
      ]
    }
  ]
}
